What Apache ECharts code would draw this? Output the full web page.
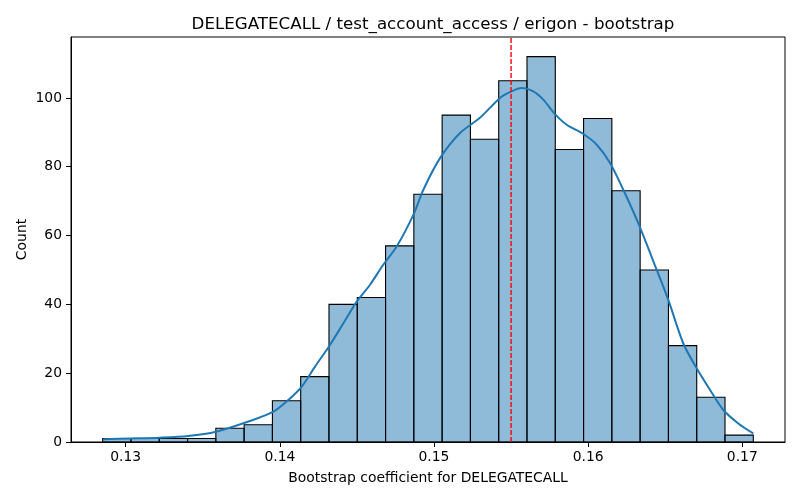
<!DOCTYPE html>
<html lang="en">
<head>
    <meta charset="UTF-8">
    <title>DELEGATECALL bootstrap</title>
    <script src="https://cdn.jsdelivr.net/npm/echarts@6/dist/echarts.min.js"></script>
    <style>
        html, body { margin: 0; padding: 0; background: #fff; }
    </style>
</head>
<body>
<div id="myDiv" style="width: 800px;height: 500px"></div>

<script>
    // histogram bins (edges) and counts
    var binEdges = [0.128508, 0.130343, 0.132178, 0.134013, 0.135848, 0.137683, 0.139518, 0.141353,
        0.143188, 0.145023, 0.146858, 0.148693, 0.150528, 0.152363, 0.154198, 0.156033,
        0.157868, 0.159703, 0.161538, 0.163373, 0.165208, 0.167043, 0.168878, 0.170713];
    var counts = [1, 1, 1, 1, 4, 5, 12, 19, 40, 42, 57, 72, 95, 88, 105, 112, 85, 94, 73, 50, 28, 13, 2];

    // kde curve
    var kdeX = [0.12855, 0.13028, 0.13223, 0.13406, 0.13586, 0.13806, 0.13958, 0.14055, 0.14142,
        0.14228, 0.14325, 0.14412, 0.14499, 0.14585, 0.14671, 0.14758, 0.14866, 0.14931,
        0.15039, 0.15169, 0.15298, 0.15428, 0.15493, 0.15569, 0.15644, 0.15709, 0.15785,
        0.15861, 0.15969, 0.16056, 0.16142, 0.16228, 0.16325, 0.16445, 0.16520, 0.16617,
        0.16704, 0.16791, 0.16877, 0.16974, 0.17071];
    var kdeY = [0.8, 1.0, 1.25, 1.75, 3.0, 6.1, 8.8, 12.2, 16.1,
        21.9, 28.2, 34.5, 40.8, 45.7, 51.5, 56.8, 66, 73.3,
        82.5, 89.8, 94.2, 100, 101.7, 102.9, 101.9, 99.5, 95.3,
        92.2, 89.5, 86.4, 81.1, 73.3, 63.6, 50, 41.3, 28.7,
        21.4, 15.1, 9.3, 5.4, 2.5];

    var meanValue = 0.155;

    var xTicks = [0.13, 0.14, 0.15, 0.16, 0.17];
    var yTicks = [0, 20, 40, 60, 80, 100];

    var xMin = 0.126452, xMax = 0.172770;
    var yMin = 0, yMax = 117.7;

    var bars = [];
    for (let i = 0; i < counts.length; i++) {
        bars.push([binEdges[i], binEdges[i + 1], counts[i]]);
    }
    var kde = [];
    for (let i = 0; i < kdeX.length; i++) {
        kde.push([kdeX[i], kdeY[i]]);
    }

    var font = 'DejaVu Sans';
    let mainChart = echarts.init(document.getElementById("myDiv"));

    var option = {
        animation: false,
        title: {
            text: "DELEGATECALL / test_account_access / erigon - bootstrap",
            left: 428,
            textAlign: 'center',
            top: 11,
            textStyle: {fontFamily: font, fontSize: 16.7, fontWeight: 'normal', color: '#000'}
        },
        grid: {
            left: 71, right: 15, top: 37, bottom: 58,
            show: true, borderColor: '#000', borderWidth: 1, backgroundColor: 'transparent'
        },
        xAxis: {
            type: 'value',
            min: xMin,
            max: xMax,
            name: 'Bootstrap coefficient for DELEGATECALL',
            nameLocation: 'middle',
            nameGap: 29,
            nameMoveOverlap: false,
            nameTextStyle: {fontFamily: font, fontSize: 13.9, color: '#000'},
            axisLine: {show: true, onZero: false, lineStyle: {color: '#000', width: 1}},
            axisTick: {show: true, length: 5, lineStyle: {color: '#000'}, customValues: xTicks},
            axisLabel: {
                fontFamily: font, fontSize: 13.9, color: '#000', margin: 8,
                customValues: xTicks,
                formatter: function (v) { return v.toFixed(2); }
            },
            splitLine: {show: false}
        },
        yAxis: {
            type: 'value',
            min: yMin,
            max: yMax,
            name: 'Count',
            nameLocation: 'middle',
            nameGap: 42,
            nameMoveOverlap: false,
            nameTextStyle: {fontFamily: font, fontSize: 13.9, color: '#000'},
            axisLine: {show: true, lineStyle: {color: '#000', width: 1}},
            axisTick: {show: true, length: 5, lineStyle: {color: '#000'}, customValues: yTicks},
            axisLabel: {
                fontFamily: font, fontSize: 13.9, color: '#000', margin: 9,
                customValues: yTicks
            },
            splitLine: {show: false}
        },
        series: [
            {
                name: 'hist',
                type: 'custom',
                data: bars,
                renderItem: function (params, api) {
                    var p0 = api.coord([api.value(0), api.value(2)]);
                    var p1 = api.coord([api.value(1), 0]);
                    return {
                        type: 'rect',
                        shape: {x: p0[0], y: p0[1], width: p1[0] - p0[0], height: p1[1] - p0[1]},
                        style: {fill: 'rgba(31,119,180,0.5)', stroke: '#000', lineWidth: 1.1}
                    };
                },
                encode: {x: [0, 1], y: 2},
                z: 2
            },
            {
                name: 'kde',
                type: 'line',
                data: kde,
                smooth: 0.3,
                showSymbol: false,
                lineStyle: {color: '#1f77b4', width: 2},
                z: 3
            },
            {
                name: 'mean',
                type: 'line',
                data: [[meanValue, yMin], [meanValue, yMax]],
                showSymbol: false,
                lineStyle: {color: '#ff0000', width: 1.4, type: [5, 2]},
                z: 4
            }
        ]
    };
    mainChart.setOption(option);
</script>
</body>
</html>
